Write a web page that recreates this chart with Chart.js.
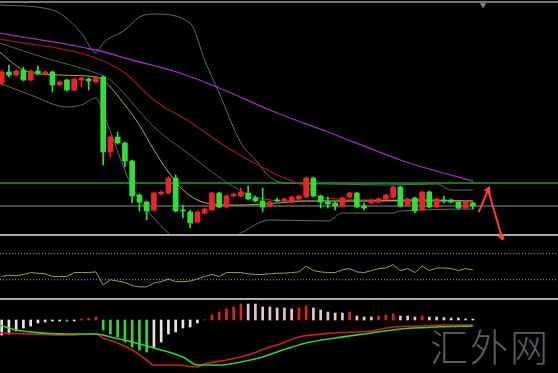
<!DOCTYPE html>
<html>
<head>
<meta charset="utf-8">
<script src="https://cdn.jsdelivr.net/npm/chart.js@4"></script>
<style>
  html, body { margin: 0; padding: 0; background: #000; }
  #wrap { position: relative; width: 558px; height: 373px; overflow: hidden; background: #000; }
  canvas { position: absolute; left: 0; }
  .sep { position: absolute; left: 0; width: 558px; height: 2px; background: #a9a9a9; }
  #mark { position: absolute; left: 430px; top: 317px; font: 300 38px "Noto Sans CJK SC"; color: #5e5e5e; letter-spacing: 2px; }
</style>
</head>
<body>
<div id="wrap">
  <div class="sep" style="top:1px;background:#767676"></div>
  <div class="sep" style="top:234px"></div>
  <div class="sep" style="top:298px"></div>
  <div id="mark">汇外网</div>
  <canvas id="priceChart" width="558" height="240" style="top:0"></canvas>
  <canvas id="rsiChart" width="558" height="62" style="top:236px"></canvas>
  <canvas id="macdChart" width="558" height="73" style="top:300px"></canvas>
</div>
<script>
// candles (one per bar, red = up, green = down)
const opens  = [167,178,175,180,170,179,176,178,165,170, 160,170,171,168,173,98,113,107,89,55, 48,40,56,57,72,40,38,28,37,40, 57,43,54,54,57,52,49,44,50,49, 48,51,53,72,54,48,47,44,53,57, 44,47,48,51,53,63,45,52,40,58, 43,50,50,48,42,47];
const closes = [178,175,179,170,179,176,178,165,168,160, 171,172,169,173,98,113,107,89,54,48, 39,57,58,72,39,39,27,38,41,57, 43,54,56,58,51,49,43,48,49,51, 53,54,72,54,48,46,44,52,57,43, 42,50,51,55,63,44,51,39,58,43, 51,49,48,42,48,44];
const highs  = [180,185,180,183,180,184,179,179,169,171, 172,173,172,174,174,114,118,108,90,56, 49,58,59,73,75,45,40,39,42,58, 58,55,57,62,64,54,62,49,52,52, 54,55,73,73,55,53,48,53,58,58, 47,51,52,56,64,64,52,53,59,59, 52,54,51,49,49,48];
const lows   = [165,173,174,169,169,175,175,158,164,159, 159,163,160,167,85,93,106,83,47,39, 30,39,55,56,38,32,22,27,36,39, 42,42,53,53,50,48,38,43,48,48, 47,50,52,53,42,42,40,43,52,42, 40,46,47,50,52,43,44,37,39,42, 42,47,47,41,41,41];

// moving averages and bands: [bar index, value]
const maLong  = [[-0.3,217],[13,200],[18,190],[25,176],[30,162],[38,137],[45,118],[55,90],[58,83],[65,69]];
const maMid   = [[-0.3,211],[13,192],[17,177],[21,150],[26,128],[31,103],[38,75],[42,63],[44,53],[50,50],[58,50],[65,49]];
const maShort = [[-0.3,198],[3,180],[8,175],[13,173],[14,170],[17,145],[19,125],[21,100],[23,78],[25,60],[27,50],[29,46],[33,45],[38,47],[42,49],[50,49],[58,50],[65,49]];
const bandMid = [[-0.3,207],[6,192],[13,177],[15,170],[21,123],[26,95],[32,63],[35,53],[40,49],[50,49],[65,48]];
const bandUp  = [[-0.3,245],[7,240],[11,217],[13,197],[14,207],[17,220],[19,233],[21,236],[26,227],[28,190],[30,157],[33,107],[35,90],[37,73],[39,67],[45,66],[53,65],[60,66],[62,60],[65,60]];
const bandLow = [[-0.3,167],[4,155],[9,143],[11,145],[13,152],[14,137],[18,63],[23,17],[26,2],[29,0],[33,17],[37,30],[45,29],[47,37],[54,37],[55,39],[65,41]];
const levelGreen = 67;
const levelGray = 44;
const arrowPath = [[65.8,38],[67.1,60],[69.0,13]];
const topMarker = [66.4,245];

// oscillator
const rsi = [35,37,36,38,41,40,39,35,35,35, 41,41,41,42,22,30,28,26,21,19, 19,25,27,31,27,27,28,31,35,38, 35,41,41,41,39,38,38,39,40,40, 41,42,51,44,42,41,41,45,47,42, 41,44,47,48,53,44,47,41,51,44, 48,48,47,44,47,45];
const rsiLevels = [70, 30];

// MACD
const macdHist = [-15,-14,-11,-8,-6,-3,-2,-1,-1,-1.2, -1,1,1.5,3,-10,-14,-17,-22,-27,-30, -32,-28,-22,-14,-12,-8,-7,-3,0.3,5, 8,11,13,16,16,16,13,13,12,12, 11,12,14,12,10,8,7,7,8,4, 3,3,4,5,6,4,4,3,4,3, 3,2.5,2,2,1,1];
const macdDif = [[-0.3,-13],[4,-14],[9,-15],[13,-14],[14,-18],[16,-23],[18,-30],[20,-40],[21,-45],[24,-45],[27,-47],[28,-44],[31,-40],[34,-35],[37,-27],[38,-25],[41,-17],[46,-13],[51,-11],[54,-7],[58,-6],[61,-5],[65,-5]];
const macdDea = [[-0.3,-5],[2,-10],[4,-12],[9,-14],[13,-14],[15,-17],[18,-22],[21,-28],[25,-37],[27,-45],[30,-45],[33,-42],[36,-37],[38,-32],[42,-23],[46,-18],[51,-13],[55,-9],[60,-7],[65,-6]];

const xMin = -0.23, xMax = 76.74;

const UP = '#f02222', DOWN = '#30e030';
const candleColors = opens.map((o, i) => closes[i] >= o ? UP : DOWN);

function lineSet(points, color, width, extra) {
    return Object.assign({
        type: 'line',
        data: points.map(p => ({ x: p[0], y: p[1] })),
        borderColor: color,
        borderWidth: width,
        pointRadius: 0,
        cubicInterpolationMode: 'monotone',
        order: 3
    }, extra || {});
}

function baseOptions(yMin, yMax, pad) {
    return {
        responsive: false,
        animation: false,
        events: [],
        layout: { padding: pad || 0, autoPadding: false },
        plugins: { legend: { display: false }, tooltip: { enabled: false } },
        scales: {
            x: { type: 'linear', min: xMin, max: xMax, offset: false, display: false },
            y: { min: yMin, max: yMax, display: false }
        }
    };
}

// price panel
new Chart(document.getElementById('priceChart'), {
    type: 'bar',
    data: {
        datasets: [
            {
                data: opens.map((o, i) => ({ x: i, y: [o, closes[i]] })),
                backgroundColor: candleColors,
                barThickness: 5, grouped: false, borderWidth: 0, order: 0
            },
            {
                data: opens.map((o, i) => ({ x: i, y: [lows[i], highs[i]] })),
                backgroundColor: candleColors,
                barThickness: 1, grouped: false, borderWidth: 0, order: 1
            },
            lineSet(arrowPath, '#ff3b3b', 2, {
                cubicInterpolationMode: 'default', clip: false, order: 0,
                pointRadius: [0, 4.5, 4.5], pointStyle: 'triangle',
                pointRotation: [0, 23, 164],
                pointBackgroundColor: '#ff3b3b', pointBorderWidth: 0
            }),
            lineSet([topMarker], '#8a8a8a', 0, {
                showLine: false, pointRadius: 3.5, pointStyle: 'triangle',
                pointRotation: 180, pointBackgroundColor: '#8a8a8a', pointBorderWidth: 0
            }),
            lineSet(maShort, '#b5ad22', 1),
            lineSet(maMid, '#9a1616', 1.3),
            lineSet(maLong, '#a02cbe', 1.3),
            lineSet(bandMid, '#2f6f55', 1),
            lineSet(bandUp, '#4b7565', 1),
            lineSet(bandLow, '#4b7565', 1),
            lineSet([[xMin, levelGreen], [xMax, levelGreen]], '#1f9e1f', 1.5, { order: 4 }),
            lineSet([[xMin, levelGray], [xMax, levelGray]], '#8c8c8c', 1, { order: 4 })
        ]
    },
    options: baseOptions(16, 250, { bottom: 6 })
});

// oscillator panel
new Chart(document.getElementById('rsiChart'), {
    type: 'line',
    data: {
        datasets: [
            lineSet(rsi.map((v, i) => [i, v]), '#a5a025', 1, { cubicInterpolationMode: 'default' }),
            ...rsiLevels.map(lv => lineSet([[xMin, lv], [xMax, lv]], '#9a9a9a', 1, { borderDash: [1, 2], order: 4 }))
        ]
    },
    options: baseOptions(2, 97)
});

// MACD panel
const histColors = macdHist.map((v, i) => {
    const prev = i > 0 ? macdHist[i - 1] : v;
    if (v >= 0) return v > prev ? '#e02222' : '#e8c4cc';
    return v < prev ? '#36d636' : '#e6e6e6';
});

new Chart(document.getElementById('macdChart'), {
    type: 'bar',
    data: {
        datasets: [
            {
                data: macdHist.map((v, i) => ({ x: i, y: v })),
                backgroundColor: histColors,
                barThickness: 2, grouped: false, borderWidth: 0, order: 5
            },
            lineSet(macdDif, '#d41a1a', 1.6, { order: 1 }),
            lineSet(macdDea, '#2ad62a', 1.6, { order: 0 })
        ]
    },
    options: baseOptions(-53, 20)
});
</script>
</body>
</html>
